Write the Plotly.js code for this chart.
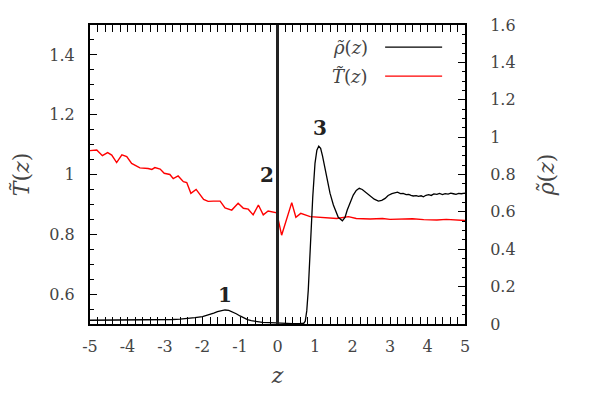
<!DOCTYPE html>
<html>
<head>
<meta charset="utf-8">
<script src="https://cdn.plot.ly/plotly-3.0.1.min.js"></script>
<style>html,body{margin:0;padding:0;background:#fff;}#chart{width:600px;height:393px;}</style>
</head>
<body>
<div id="chart"></div>
<script>
// Density profile rho~(z) (right axis)
const zRho = [-5.0,-4.5,-4.0,-3.5,-3.0,-2.8,-2.6,-2.4,-2.2,-2.0,-1.9,-1.8,-1.7,-1.6,-1.5,-1.4,-1.3,-1.2,-1.1,-1.0,-0.9,-0.8,-0.7,-0.6,-0.5,-0.4,-0.2,0.0,0.2,0.4,0.6,0.7,0.74,0.78,0.82,0.87,0.94,1.0,1.05,1.1,1.15,1.2,1.31,1.4,1.49,1.62,1.73,1.8,1.86,1.94,2.02,2.1,2.18,2.26,2.35,2.47,2.58,2.69,2.78,2.87,2.95,3.05,3.13,3.2,3.28,3.35,3.43,3.5,3.56,3.62,3.7,3.76,3.83,3.89,3.96,4.03,4.1,4.17,4.25,4.32,4.4,4.47,4.55,4.62,4.69,4.76,4.83,4.9,5.0];
const rho  = [0.020,0.020,0.020,0.021,0.023,0.024,0.026,0.029,0.034,0.040,0.045,0.051,0.058,0.066,0.072,0.075,0.073,0.066,0.055,0.043,0.032,0.024,0.018,0.014,0.011,0.009,0.007,0.005,0.003,0.002,0.003,0.004,0.015,0.07,0.18,0.40,0.68,0.86,0.93,0.952,0.94,0.90,0.788,0.70,0.637,0.571,0.552,0.57,0.61,0.655,0.69,0.715,0.726,0.72,0.705,0.69,0.668,0.658,0.662,0.672,0.688,0.698,0.703,0.706,0.698,0.699,0.692,0.694,0.688,0.685,0.687,0.683,0.686,0.681,0.689,0.692,0.688,0.696,0.694,0.699,0.693,0.698,0.695,0.700,0.697,0.694,0.699,0.697,0.700];

// Temperature profile T~(z) (left axis)
const zT = [-5.00,-4.82,-4.67,-4.53,-4.42,-4.29,-4.15,-4.02,-3.89,-3.67,-3.45,-3.35,-3.27,-3.13,-3.02,-2.87,-2.78,-2.65,-2.51,-2.42,-2.31,-2.17,-1.97,-1.85,-1.71,-1.53,-1.40,-1.22,-1.05,-0.91,-0.78,-0.65,-0.51,-0.38,-0.25,-0.02,0.11,0.38,0.49,0.62,0.87,1.10,1.30,1.58,1.89,2.10,2.47,2.80,3.00,3.35,3.60,3.90,4.25,4.50,4.75,5.00];
const T  = [1.080,1.082,1.063,1.073,1.065,1.040,1.066,1.060,1.037,1.022,1.020,1.017,1.023,1.018,1.004,1.000,0.986,0.995,0.976,0.973,0.937,0.950,0.917,0.910,0.911,0.911,0.888,0.881,0.904,0.887,0.884,0.865,0.898,0.865,0.878,0.872,0.797,0.906,0.857,0.870,0.859,0.857,0.855,0.853,0.859,0.853,0.851,0.853,0.850,0.851,0.852,0.849,0.848,0.850,0.847,0.846];

// Interface position
const interfaceZ = 0;

// Tick labels
const xTickVals = [-5,-4,-3,-2,-1,0,1,2,3,4,5];
const xTickText = ["-5","-4","-3","-2","-1","0","1","2","3","4","5"];
const yTickVals = [0.6,0.8,1.0,1.2,1.4];
const yTickText = ["0.6","0.8","1","1.2","1.4"];
const y2TickVals = [0,0.2,0.4,0.6,0.8,1.0,1.2,1.4,1.6];
const y2TickText = ["0","0.2","0.4","0.6","0.8","1","1.2","1.4","1.6"];

// Peak labels
const peakLabels = ["1","2","3"];
const peakZ = [-1.4,-0.29,1.13];
const peakRho = [0.155,0.80,1.047];

const FONT = "DejaVu Serif";
const rhoText = '<i>ρ̃</i>(<i>z</i>)';
const tText = '<i>T̃</i>(<i>z</i>)';
const TXT = '#444444';

const traces = [
  {x: zT, y: T, type:'scatter', mode:'lines', yaxis:'y', line:{color:'#ff0000', width:1.4}, showlegend:false, hoverinfo:'skip'},
  {x: zRho, y: rho, type:'scatter', mode:'lines', yaxis:'y2', line:{color:'#000000', width:1.3}, showlegend:false, hoverinfo:'skip'}
];

const annotations = peakLabels.map((t,i)=>({
  x: peakZ[i], y: peakRho[i], xref:'x', yref:'y2', text:'<b>'+t+'</b>', showarrow:false,
  font:{family:FONT, size:20, color:'#222'}, xanchor:'center', yanchor:'middle'
}));
// custom legend (text right-aligned, sample on the right)
annotations.push({xref:'paper', yref:'paper', x:0.747, y:0.926, xanchor:'right', yanchor:'middle', showarrow:false,
  text:rhoText, font:{family:FONT, size:18, color:TXT}});
annotations.push({xref:'paper', yref:'paper', x:0.747, y:0.829, xanchor:'right', yanchor:'middle', showarrow:false,
  text:tText, font:{family:FONT, size:18, color:TXT}});

const shapes = [
  {type:'line', xref:'x', yref:'paper', x0:interfaceZ, x1:interfaceZ, y0:0, y1:1, line:{color:'#222', width:3}, layer:'above'},
  {type:'line', xref:'paper', yref:'paper', x0:0.787, x1:0.939, y0:0.926, y1:0.926, line:{color:'#000', width:1.4}},
  {type:'line', xref:'paper', yref:'paper', x0:0.787, x1:0.939, y0:0.829, y1:0.829, line:{color:'#ff0000', width:1.4}}
];

const tickFont = {family:FONT, size:16, color:TXT};

const layout = {
  width:600, height:393,
  margin:{l:90, r:135, t:25, b:69, pad:0},
  paper_bgcolor:'#fff', plot_bgcolor:'#fff',
  font:{family:FONT, color:TXT},
  showlegend:false,
  xaxis:{
    range:[-5,5], tickvals:xTickVals, ticktext:xTickText,
    ticks:'inside', ticklen:7, tickwidth:1, tickcolor:'#000',
    minor:{ticks:'inside', dtick:0.2, ticklen:3.5, tickwidth:1, tickcolor:'#000', showgrid:false},
    showline:true, linewidth:2, linecolor:'#000', mirror:'allticks',
    showgrid:false, zeroline:false, tickfont:tickFont, ticklabelstandoff:7,
    title:{text:'<i>z</i>', font:{family:FONT, size:22, color:TXT}, standoff:12}
  },
  yaxis:{
    range:[0.5,1.5], tickvals:yTickVals, ticktext:yTickText,
    ticks:'inside', ticklen:7, tickwidth:1, tickcolor:'#000',
    minor:{ticks:'inside', dtick:0.05, ticklen:3.5, tickwidth:1, tickcolor:'#000', showgrid:false},
    showline:true, linewidth:2, linecolor:'#000', mirror:false,
    showgrid:false, zeroline:false, tickfont:tickFont, ticklabelstandoff:10,
    title:{text:tText, font:{family:FONT, size:22, color:TXT}, standoff:14}
  },
  yaxis2:{
    range:[0,1.6], overlaying:'y', side:'right', tickvals:y2TickVals, ticktext:y2TickText,
    ticks:'inside', ticklen:7, tickwidth:1, tickcolor:'#000',
    minor:{ticks:'inside', dtick:0.05, ticklen:3.5, tickwidth:1, tickcolor:'#000', showgrid:false},
    showline:true, linewidth:2, linecolor:'#000',
    showgrid:false, zeroline:false, tickfont:tickFont, ticklabelstandoff:20,
    title:{text:rhoText, font:{family:FONT, size:22, color:TXT}, standoff:24}
  },
  annotations: annotations,
  shapes: shapes
};

Plotly.newPlot('chart', traces, layout, {staticPlot:true, displayModeBar:false});
</script>
</body>
</html>
